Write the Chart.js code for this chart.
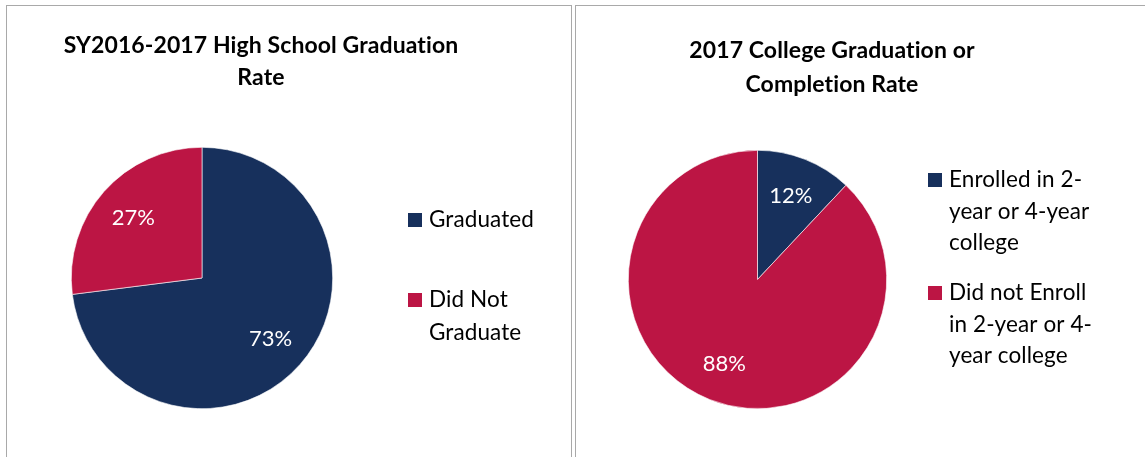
<!DOCTYPE html>
<html>
<head>
<meta charset="utf-8">
<title>Graduation Rates</title>
<script src="https://cdn.jsdelivr.net/npm/chart.js@4.4.1/dist/chart.umd.min.js"></script>
<style>
	html, body { margin: 0; padding: 0; background: #fff; width: 1145px; height: 457px; overflow: hidden; }
	.frame { position: absolute; top: 5px; height: 470px; border: 1.5px solid #a9a9a9; border-bottom: none; box-sizing: border-box; }
	#frameLeft { left: 6px; width: 566px; }
	#frameRight { left: 575px; width: 600px; }
	.box { position: absolute; }
	#boxLeft { left: 8px; top: 7px; width: 562px; height: 450px; }
	#boxRight { left: 577px; top: 7px; width: 568px; height: 450px; }
</style>
</head>
<body>
<div class="frame" id="frameLeft"></div>
<div class="frame" id="frameRight"></div>
<div class="box" id="boxLeft"><canvas id="hsChart"></canvas></div>
<div class="box" id="boxRight"><canvas id="collegeChart"></canvas></div>
<script>
const hsTitle = ["SY2016-2017 High School Graduation", "Rate"];
const hsLabels = [["Graduated"], ["Did Not", "Graduate"]];
const hsValues = [73, 27];

const collegeTitle = ["2017 College Graduation or", "Completion Rate"];
const collegeLabels = [
	["Enrolled in 2-", "year or 4-year", "college"],
	["Did not Enroll", "in 2-year or 4-", "year college"],
];
const collegeValues = [12, 88];

const sliceColors = ["#17305C", "#BC1544"];

/**
 * Draws the title, the wrapped legend and the percent labels on the slices
 */
const panelText = {
	id: "panelText",
	afterDatasetsDraw(chart, args, opts) {
		const ctx = chart.ctx;
		const meta = chart.getDatasetMeta(0);
		const values = chart.data.datasets[0].data;
		ctx.save();
		ctx.fillStyle = "#ffffff";
		ctx.font = "22px Lato";
		ctx.textAlign = "center";
		ctx.textBaseline = "middle";
		meta.data.forEach((arc, i) => {
			const p = arc.getProps(["x", "y", "startAngle", "endAngle", "outerRadius"], true);
			const mid = (p.startAngle + p.endAngle) / 2;
			const d = p.outerRadius * 0.7;
			ctx.fillText(values[i] + "%", p.x + Math.cos(mid) * d, p.y + Math.sin(mid) * d);
		});
		ctx.restore();
	},
	afterDraw(chart, args, opts) {
		const ctx = chart.ctx;
		ctx.save();
		ctx.fillStyle = "#000000";
		ctx.textAlign = "center";
		ctx.textBaseline = "middle";
		ctx.font = "bold 23px Lato";
		// a small spacing keeps the "ti" ligature out of the title
		ctx.letterSpacing = "0.1px";
		opts.title.forEach((line, i) => {
			ctx.fillText(line, opts.titleX, opts.titleY + i * opts.titleLine);
		});

		// Legend, one square per item, lines stacked under it
		ctx.textAlign = "left";
		ctx.font = "22.5px Lato";
		chart.data.labels.forEach((lines, i) => {
			const top = opts.legendTops[i];
			ctx.fillStyle = chart.data.datasets[0].backgroundColor[i];
			ctx.fillRect(opts.legendX, top - 7, 14, 14);
			ctx.fillStyle = "#000000";
			lines.forEach((line, j) => {
				ctx.fillText(line, opts.legendX + 21, top + j * opts.legendLine);
			});
		});
		ctx.restore();
	},
};

function makePie(canvasId, labels, values, padding, text) {
	const el = document.getElementById(canvasId);
	return new Chart(el, {
		type: "pie",
		data: {
			labels: labels,
			datasets: [
				{
					data: values,
					backgroundColor: sliceColors,
					borderColor: "#ffffff",
					borderWidth: 0.6,
					hoverOffset: 0,
				},
			],
		},
		options: {
			responsive: true,
			maintainAspectRatio: false,
			animation: false,
			events: [],
			layout: { padding: padding },
			plugins: {
				legend: { display: false },
				title: { display: false },
				tooltip: { enabled: false },
				panelText: text,
			},
		},
		plugins: [panelText],
	});
}

window.hsChartObj = makePie(
	"hsChart",
	hsLabels,
	hsValues,
	{ left: 63, top: 140, right: 237, bottom: 48 },
	{
		title: hsTitle,
		titleX: 253,
		titleY: 39,
		titleLine: 32,
		legendX: 400,
		legendTops: [213, 293],
		legendLine: 33,
	}
);

window.collegeChartObj = makePie(
	"collegeChart",
	collegeLabels,
	collegeValues,
	{ left: 51, top: 143, right: 258, bottom: 48 },
	{
		title: collegeTitle,
		titleX: 255,
		titleY: 44,
		titleLine: 34,
		legendX: 351,
		legendTops: [173, 286],
		legendLine: 31.5,
	}
);
</script>
</body>
</html>
